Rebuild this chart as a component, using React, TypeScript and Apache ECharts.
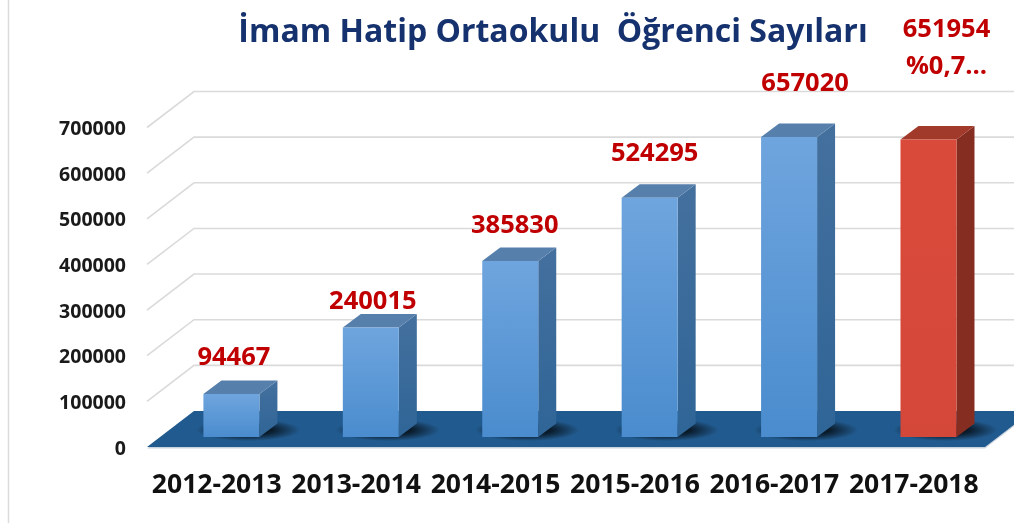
import React, { useEffect, useRef } from "react";
import * as echarts from "echarts";

const categories = ["2012-2013", "2013-2014", "2014-2015", "2015-2016", "2016-2017", "2017-2018"];
const studentCounts = [94467, 240015, 385830, 524295, 657020, 651954];
const labelNotes = ["", "", "", "", "", "%0,7…"];
const highlighted = [false, false, false, false, false, true];
const gridValues = [100000, 200000, 300000, 400000, 500000, 600000, 700000];
const labelShiftX = [2.5, 2, 4.5, 5, 16, 18];
const labelShiftY = [-39, -28, -38, -47, -56, -112];

const DEPTH_X = 47;
const DEPTH_Y = -36;
const BAR_W = 56;
const BAR_SHIFT_X = 14.7;
const BAR_SHIFT_Y = -10;
const SIDE_X = 18;
const SIDE_Y = -13.5;
const FLOOR_EXTRA = 1.5;
const FONT = "'Open Sans', sans-serif";

export default function App() {
  const ref = useRef<HTMLDivElement>(null);
  useEffect(() => {
    document.body.style.margin = "0";
    const chart = echarts.init(ref.current!, undefined, { renderer: "svg" });
    chart.setOption({
      animation: false,
      backgroundColor: "#ffffff",
      title: {
        text: "İmam Hatip Ortaokulu  Öğrenci Sayıları",
        left: 548,
        top: 8,
        textAlign: "center",
        textStyle: { color: "#15326E", fontFamily: FONT, fontWeight: "bold", fontSize: 32 },
      },
      graphic: [
        { type: "line", shape: { x1: 8.5, y1: 0, x2: 8.5, y2: 523 }, style: { stroke: "#dcdcdc", lineWidth: 1.5 } },
      ],
      grid: { left: 147, width: 836.5, top: 127.5, height: 319.5, containLabel: false },
      xAxis: {
        type: "category",
        data: categories,
        axisLine: { show: false },
        axisTick: { show: false },
        axisLabel: { color: "#111111", fontFamily: FONT, fontWeight: "bold", fontSize: 26.5, margin: 22, interval: 0 },
      },
      yAxis: {
        type: "value",
        min: 0,
        max: 700000,
        interval: 100000,
        splitLine: { show: false },
        axisLine: { show: false },
        axisTick: { show: false },
        axisLabel: {
          color: "#1a1a1a",
          fontFamily: FONT,
          fontWeight: "bold",
          fontSize: 19.5,
          margin: 21,
          formatter: (v: number) => String(v),
        },
      },
      series: [
        {
          type: "custom",
          coordinateSystem: "cartesian2d",
          clip: false,
          silent: true,
          z: 1,
          data: gridValues.map((v) => [0, v]),
          renderItem(params: any, api: any) {
            const cs = params.coordSys;
            const y = api.coord([0, api.value(1)])[1];
            return {
              type: "polyline",
              shape: {
                points: [
                  [cs.x, y],
                  [cs.x + DEPTH_X, y + DEPTH_Y],
                  [cs.x + cs.width + DEPTH_X, y + DEPTH_Y],
                ],
              },
              style: { stroke: "#dadada", lineWidth: 1.6, fill: "none" },
            };
          },
        },
        {
          type: "custom",
          coordinateSystem: "cartesian2d",
          clip: false,
          silent: true,
          z: 2,
          data: [[0, 0]],
          renderItem(params: any, api: any) {
            const cs = params.coordSys;
            const y = api.coord([0, 0])[1];
            const right = cs.x + cs.width + FLOOR_EXTRA;
            return {
              type: "group",
              children: [
                {
                  type: "polygon",
                  shape: {
                    points: [
                      [cs.x, y + 1.5],
                      [right, y + 1.5],
                      [right + DEPTH_X, y + DEPTH_Y + 1.5],
                      [cs.x + DEPTH_X, y + DEPTH_Y + 1.5],
                    ],
                  },
                  style: { fill: "#c9d3dd" },
                },
                {
                  type: "polygon",
                  shape: {
                    points: [
                      [cs.x, y],
                      [right, y],
                      [right + DEPTH_X, y + DEPTH_Y],
                      [cs.x + DEPTH_X, y + DEPTH_Y],
                    ],
                  },
                  style: { fill: "#215A8E" },
                },
              ],
            };
          },
        },
        {
          type: "custom",
          coordinateSystem: "cartesian2d",
          clip: false,
          silent: true,
          z: 3,
          data: studentCounts.map((v, i) => [i, v]),
          renderItem(params: any, api: any) {
            const i = params.dataIndex;
            const value = api.value(1);
            const center = api.coord([i, 0]);
            const top = api.coord([i, value]);
            const xl = center[0] + BAR_SHIFT_X - BAR_W / 2;
            const xr = xl + BAR_W;
            const yb = center[1] + BAR_SHIFT_Y;
            const yt = top[1] + BAR_SHIFT_Y;
            const red = highlighted[i];
            const grad = (a: string, b: string) =>
              new echarts.graphic.LinearGradient(0, 0, 0, 1, [
                { offset: 0, color: a },
                { offset: 1, color: b },
              ]);
            const front = red ? grad("#DA4A3A", "#D4483A") : grad("#6FA5DE", "#4A8CCE");
            const side = red ? "#862D22" : grad("#44709E", "#2F6597");
            const cap = red ? "#A23A2C" : "#567FAB";
            const labelX = (xl + xr) / 2 + labelShiftX[i];
            const labelY = yt + labelShiftY[i];
            const textStyle = {
              fill: "#C00000",
              fontFamily: FONT,
              fontWeight: "bold",
              fontSize: 25.5,
              align: "center",
              verticalAlign: "middle",
            };
            const children: any[] = [
              {
                type: "ellipse",
                shape: { cx: xr - 11, cy: yb - 7, rx: 52, ry: 11 },
                style: {
                  fill: new echarts.graphic.RadialGradient(0.5, 0.5, 0.5, [
                    { offset: 0, color: "rgba(0,0,0,0.95)" },
                    { offset: 0.45, color: "rgba(0,0,0,0.7)" },
                    { offset: 1, color: "rgba(0,0,0,0)" },
                  ]),
                },
              },
              {
                type: "polygon",
                shape: { points: [[xr, yb], [xr + SIDE_X, yb + SIDE_Y], [xr + SIDE_X, yt + SIDE_Y], [xr, yt]] },
                style: { fill: side },
              },
              {
                type: "polygon",
                shape: { points: [[xl, yt], [xr, yt], [xr + SIDE_X, yt + SIDE_Y], [xl + SIDE_X, yt + SIDE_Y]] },
                style: { fill: cap },
              },
              { type: "rect", shape: { x: xl, y: yt, width: BAR_W, height: yb - yt }, style: { fill: front } },
              { type: "text", style: { text: String(value), x: labelX, y: labelY, ...textStyle } },
            ];
            if (labelNotes[i]) {
              children.push({ type: "text", style: { text: labelNotes[i], x: labelX, y: labelY + 37, ...textStyle } });
            }
            return { type: "group", children };
          },
        },
      ],
    });
    return () => chart.dispose();
  }, []);
  return (
    <div
      ref={ref}
      style={{ position: "fixed", left: 0, top: 0, width: 1014, height: 523, filter: "blur(0.45px)" }}
    />
  );
}
